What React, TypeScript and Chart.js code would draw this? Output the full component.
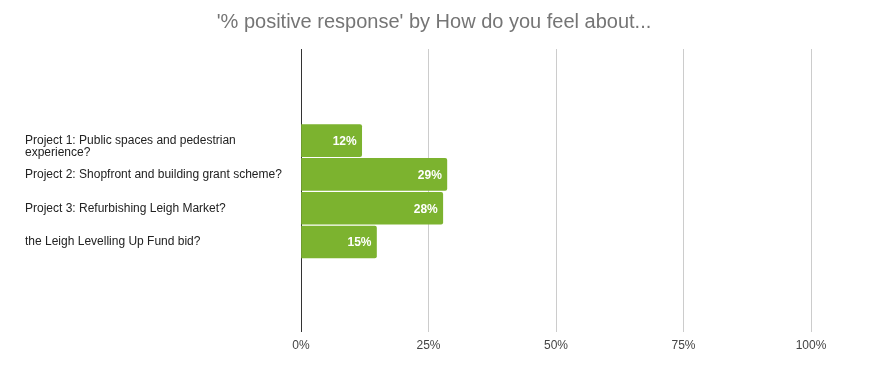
import React, { useEffect, useRef } from "react";
import { Chart, registerables } from "chart.js";

Chart.register(...registerables);

const TITLE = "'% positive response' by How do you feel about...";
const categories: (string | string[])[] = [
  ["", "Project 1: Public spaces and pedestrian", "experience?"],
  "Project 2: Shopfront and building grant scheme?",
  "Project 3: Refurbishing Leigh Market?",
  "the Leigh Levelling Up Fund bid?",
];
const positiveValues = [11.9, 28.6, 27.8, 14.8];
const xTicks = [0, 25, 50, 75, 100];

const FONT = "'Liberation Sans', Arial, sans-serif";

const titlePlugin = {
  id: "centeredTitle",
  afterDraw(chart: any) {
    const ctx = chart.ctx;
    ctx.save();
    ctx.fillStyle = "#757575";
    ctx.font = `20px ${FONT}`;
    ctx.textAlign = "center";
    ctx.textBaseline = "middle";
    ctx.fillText(TITLE, chart.width / 2 - 3, 22);
    ctx.restore();
  },
};

const barLabelPlugin = {
  id: "barLabels",
  afterDatasetsDraw(chart: any) {
    const ctx = chart.ctx;
    const meta = chart.getDatasetMeta(0);
    ctx.save();
    ctx.fillStyle = "#ffffff";
    ctx.font = `bold 12px ${FONT}`;
    ctx.textAlign = "right";
    ctx.textBaseline = "middle";
    meta.data.forEach((bar: any, i: number) => {
      const v = positiveValues[i];
      ctx.fillText(Math.round(v) + "%", bar.x - 5, bar.y + 1);
    });
    ctx.restore();
  },
};

export default function App() {
  const canvasRef = useRef<HTMLCanvasElement | null>(null);

  useEffect(() => {
    if (!canvasRef.current) return;
    const n = categories.length;
    const mid = (n - 1) / 2 - 1 / 34;
    const half = 284 / 34 / 2;
    const chart = new Chart(canvasRef.current, {
      type: "bar",
      data: {
        datasets: [
          {
            data: positiveValues.map((v, i) => ({ x: v, y: i })),
            backgroundColor: "#7cb32f",
            borderRadius: 2,
            barThickness: 32,
          },
        ],
      },
      options: {
        indexAxis: "y",
        responsive: false,
        animation: false,
        layout: { padding: { left: 25, right: 63, top: 49, bottom: 8 } },
        plugins: {
          legend: { display: false },
          tooltip: { enabled: false },
          title: { display: false },
        },
        scales: {
          x: {
            type: "linear",
            min: 0,
            max: 100,
            afterBuildTicks: (scale: any) => {
              scale.ticks = xTicks.map((v) => ({ value: v }));
            },
            ticks: {
              callback: (v: any) => v + "%",
              color: "#444444",
              font: { family: FONT, size: 12 },
              padding: 7,
              maxRotation: 0,
            },
            grid: {
              drawTicks: false,
              color: (c: any) => (c.tick && c.tick.value === 0 ? "#333333" : "#cccccc"),
            },
            border: { display: false },
          },
          y: {
            type: "linear",
            reverse: true,
            offset: false,
            min: mid - half,
            max: mid + half,
            afterBuildTicks: (scale: any) => {
              scale.ticks = categories.map((_, i) => ({ value: i }));
            },
            afterFit: (scale: any) => {
              scale.width = 276;
            },
            ticks: {
              callback: (v: any) => categories[v] as any,
              crossAlign: "far",
              color: "#222222",
              font: { family: FONT, size: 12, lineHeight: 1.0 },
              autoSkip: false,
            },
            grid: { display: false, offset: false },
            border: { display: true, color: "#333333", width: 1 },
          },
        },
      },
      plugins: [barLabelPlugin, titlePlugin],
    } as any);
    return () => chart.destroy();
  }, []);

  return (
    <div style={{ position: "fixed", left: 0, top: 0, width: 874, height: 368, background: "#fff" }}>
      <canvas ref={canvasRef} width={874} height={368} style={{ width: 874, height: 368 }} />
    </div>
  );
}
